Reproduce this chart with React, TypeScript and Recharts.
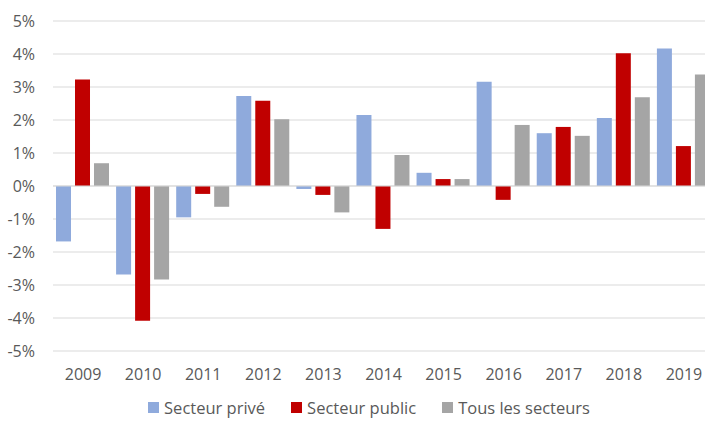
import { Bar, BarChart, CartesianGrid, Legend, ReferenceLine, XAxis, YAxis } from "recharts"

const years = ["2009", "2010", "2011", "2012", "2013", "2014", "2015", "2016", "2017", "2018", "2019"]
const prive = [-1.68, -2.68, -0.95, 2.73, -0.09, 2.15, 0.4, 3.16, 1.6, 2.06, 4.17]
const public_ = [3.23, -4.08, -0.24, 2.58, -0.27, -1.3, 0.21, -0.42, 1.79, 4.02, 1.21]
const tous = [0.69, -2.83, -0.63, 2.02, -0.8, 0.94, 0.21, 1.85, 1.52, 2.69, 3.38]
const yTicks = [-5, -4, -3, -2, -1, 0, 1, 2, 3, 4, 5]

const series = [
  { key: "prive", name: "Secteur privé", color: "#8faadc" },
  { key: "public", name: "Secteur public", color: "#c00000" },
  { key: "tous", name: "Tous les secteurs", color: "#a5a5a5" },
]

const data = years.map((year, i) => ({
  year,
  prive: prive[i],
  public: public_[i],
  tous: tous[i],
}))

const textColor = "#595959"
const font = "'Open Sans', sans-serif"

function LegendContent() {
  return (
    <div
      style={{
        display: "flex",
        justifyContent: "center",
        gap: 26,
        paddingTop: 5,
        paddingLeft: 16,
        fontFamily: font,
        fontSize: 16.5,
        color: textColor,
      }}
    >
      {series.map((s) => (
        <span key={s.key} style={{ display: "flex", alignItems: "center", gap: 5 }}>
          <span style={{ width: 11, height: 11, background: s.color, display: "inline-block" }} />
          {s.name}
        </span>
      ))}
    </div>
  )
}

export default function App() {
  return (
    <div
      style={{
        position: "absolute",
        left: 0,
        top: 0,
        width: 705,
        height: 421,
        overflow: "hidden",
        background: "#fff",
      }}
    >
      <BarChart
        width={730}
        height={421}
        data={data}
        margin={{ top: 21, right: 16, bottom: 0, left: 8 }}
        barCategoryGap="5%"
        barGap={4}
      >
        <CartesianGrid stroke="#d9d9d9" vertical={false} />
        <XAxis
          dataKey="year"
          axisLine={false}
          tickLine={false}
          tickMargin={12}
          height={40}
          tick={{ fill: textColor, fontSize: 16, fontFamily: font }}
        />
        <YAxis
          domain={[-5, 5]}
          ticks={yTicks}
          tickFormatter={(v) => `${v}%`}
          axisLine={false}
          tickLine={false}
          tickMargin={12}
          width={45}
          tick={{ fill: textColor, fontSize: 16, fontFamily: font }}
        />
        <ReferenceLine y={0} stroke="#d9d9d9" />
        {series.map((s) => (
          <Bar key={s.key} dataKey={s.key} name={s.name} fill={s.color} isAnimationActive={false} />
        ))}
        <Legend verticalAlign="bottom" height={30} content={<LegendContent />} />
      </BarChart>
    </div>
  )
}
